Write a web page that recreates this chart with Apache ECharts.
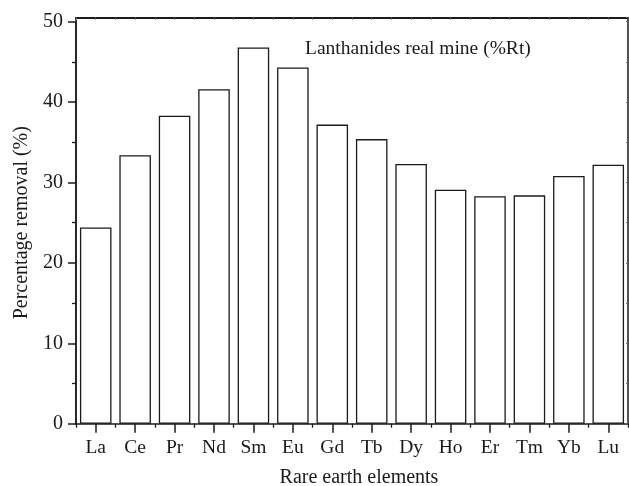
<!DOCTYPE html>
<html>
<head>
<meta charset="utf-8">
<script src="https://cdn.jsdelivr.net/npm/echarts@6/dist/echarts.min.js"></script>
<style>
  html, body { margin: 0; padding: 0; background: #fff; }
  #chart { width: 629px; height: 486px; }
</style>
</head>
<body>
<div id="chart"></div>
<script>
// Rare earth elements and their percentage removal
const elements = ['La', 'Ce', 'Pr', 'Nd', 'Sm', 'Eu', 'Gd', 'Tb', 'Dy', 'Ho', 'Er', 'Tm', 'Yb', 'Lu'];
const removal = [24.4, 33.4, 38.3, 41.6, 46.8, 44.3, 37.2, 35.4, 32.3, 29.1, 28.3, 28.4, 30.8, 32.2];
const yTicks = { min: 0, max: 50, step: 10 };

const FONT = 'Liberation Serif';
const INK = '#1a1a1a';

const chart = echarts.init(document.getElementById('chart'), null, { renderer: 'canvas' });

const plotGrid = { left: 76, right: 1, top: 21.7, bottom: 62.3 };
const frameGrid = { left: 76, right: 1, top: 17.7, bottom: 62.3 };
// frame extends slightly above the top tick
const frameMax = yTicks.max * (486 - frameGrid.bottom - frameGrid.top) / (486 - plotGrid.bottom - plotGrid.top);

chart.setOption({
  animation: false,
  backgroundColor: '#ffffff',
  title: {
    text: 'Lanthanides real mine (%Rt)',
    left: 305,
    top: 39,
    padding: 0,
    textStyle: { fontFamily: FONT, fontSize: 19.5, fontWeight: 'normal', color: INK }
  },
  grid: [
    Object.assign({ containLabel: false, outerBoundsMode: 'none' }, plotGrid),
    Object.assign({ containLabel: false, outerBoundsMode: 'none' }, frameGrid)
  ],
  xAxis: [
    {
      gridIndex: 0,
      type: 'category',
      data: elements,
      position: 'bottom',
      name: 'Rare earth elements',
      nameLocation: 'middle',
      nameGap: 44,
      nameTextStyle: { fontFamily: FONT, fontSize: 20, color: INK, padding: [0, 0, 0, 14] },
      axisLine: { onZero: false, lineStyle: { color: INK, width: 1.5 } },
      axisTick: { show: true, alignWithLabel: true, length: 9, lineStyle: { color: INK, width: 1.5 } },
      axisLabel: { fontFamily: FONT, fontSize: 19.5, color: INK, margin: 14, interval: 0 },
      splitLine: { show: false }
    },
    {
      // boundary ticks between categories
      gridIndex: 1,
      type: 'category',
      data: elements,
      position: 'bottom',
      axisLine: { show: false, onZero: false },
      axisTick: { show: true, length: 4, lineStyle: { color: INK, width: 1.3 } },
      axisLabel: { show: false },
      splitLine: { show: false }
    },
    {
      // top frame with fine inward ticks
      gridIndex: 1,
      type: 'value',
      position: 'top',
      min: 0,
      max: elements.length,
      interval: 0.5,
      axisLine: { show: true, onZero: false, lineStyle: { color: INK, width: 1.8 } },
      axisTick: { show: true, inside: true, length: 2, lineStyle: { color: '#666', width: 1 } },
      axisLabel: { show: false },
      splitLine: { show: false }
    }
  ],
  yAxis: [
    {
      gridIndex: 0,
      type: 'value',
      min: yTicks.min,
      max: yTicks.max,
      interval: yTicks.step,
      position: 'left',
      axisLine: { show: true, onZero: false, lineStyle: { color: INK, width: 1.5 } },
      axisTick: { show: true, length: 8, lineStyle: { color: INK, width: 1.5 } },
      minorTick: { show: true, splitNumber: 2, length: 4, lineStyle: { color: INK, width: 1.3 } },
      axisLabel: { fontFamily: FONT, fontSize: 20, color: INK, margin: 13 },
      splitLine: { show: false },
      name: 'Percentage removal (%)',
      nameLocation: 'middle',
      nameGap: 44,
      nameTextStyle: { fontFamily: FONT, fontSize: 20, color: INK }
    },
    {
      // left frame line reaching the top edge
      gridIndex: 1,
      type: 'value',
      min: 0,
      max: frameMax,
      position: 'left',
      axisLine: { show: true, onZero: false, lineStyle: { color: INK, width: 1.5 } },
      axisTick: { show: false },
      axisLabel: { show: false },
      splitLine: { show: false }
    },
    {
      // right frame with fine inward ticks
      gridIndex: 1,
      type: 'value',
      min: 0,
      max: frameMax,
      interval: 5,
      position: 'right',
      axisLine: { show: true, onZero: false, lineStyle: { color: INK, width: 1.5 } },
      axisTick: { show: true, inside: true, length: 2, lineStyle: { color: '#666', width: 1 } },
      axisLabel: { show: false },
      splitLine: { show: false }
    }
  ],
  series: [
    {
      type: 'bar',
      xAxisIndex: 0,
      yAxisIndex: 0,
      data: removal,
      barCategoryGap: '20%',
      itemStyle: { color: '#ffffff', borderColor: INK, borderWidth: 1.3 },
      emphasis: { disabled: true }
    }
  ]
});
</script>
</body>
</html>
